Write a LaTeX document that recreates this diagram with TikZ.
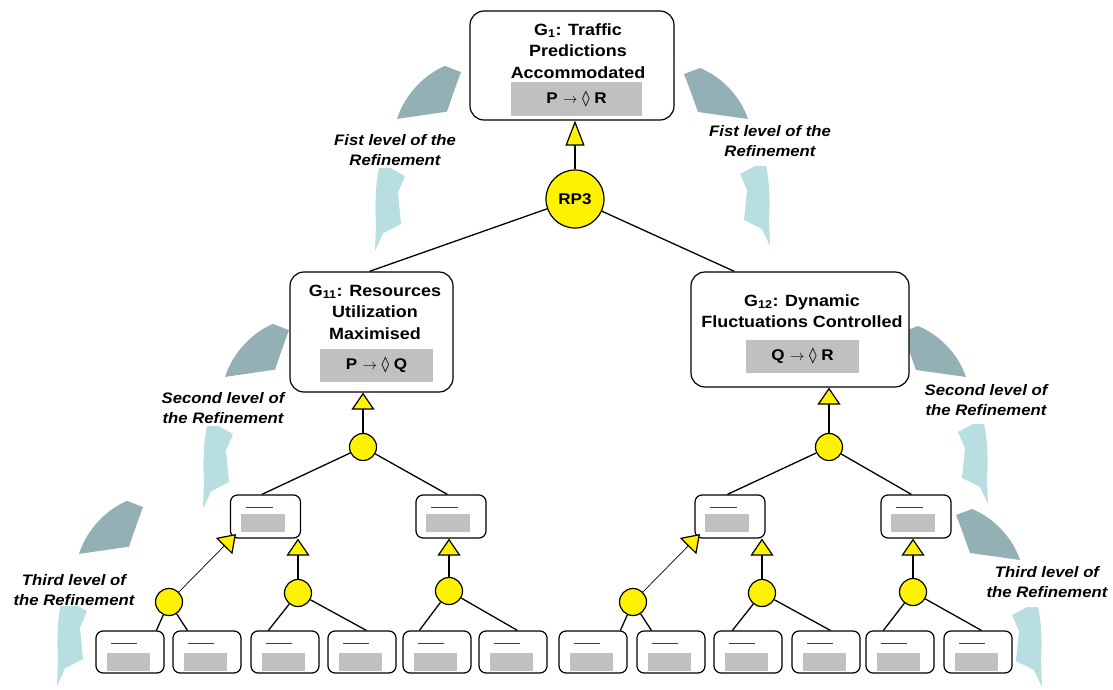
\documentclass[tikz,border=0pt]{standalone}
\usepackage{fontspec}
\setmainfont{Liberation Sans}[FakeStretch=1.1]
\newfontfamily\lozfont{DejaVu Sans}
\usetikzlibrary{arrows.meta,calc}

\definecolor{loopdark}{RGB}{147,177,181}
\definecolor{looplight}{RGB}{184,222,226}
\definecolor{formgray}{RGB}{192,192,192}

% "eventually" formula: A -> <> B
\newcommand{\eventually}[2]{#1\hspace{0.35em}$\rightarrow$\hspace{0.3em}{\lozfont\mdseries ◊}\hspace{0.3em}#2}

\tikzset{
  goalbox/.style={draw=black, line width=1.2pt, fill=white, rounded corners=14pt, inner sep=0pt},
  smallbox/.style={draw=black, line width=1.2pt, fill=white, rounded corners=7pt, inner sep=0pt},
  goaltext/.style={align=center, font=\bfseries\fontsize{16.3}{21.5}\selectfont, inner sep=0pt},
  formula/.style={fill=formgray, inner sep=0pt, font=\bfseries\fontsize{15.5}{18}\selectfont},
  placeholder/.style={fill=formgray, inner sep=0pt},
  titlebar/.style={line width=1pt, draw=black!75},
  refnode/.style={circle, draw=black, line width=1.2pt, fill=yellow, inner sep=0pt, minimum size=27pt},
  link/.style={line width=1.3pt},
  thinlink/.style={line width=0.7pt},
  satisfies/.style={-{Triangle[length=17pt,width=23pt,fill=yellow,line width=1.2pt]}},
  bigsatisfies/.style={-{Triangle[length=25pt,width=19pt,fill=yellow,line width=1.2pt]}},
  levellabel/.style={align=center, font=\bfseries\itshape\fontsize{15.2}{20}\selectfont, inner sep=0.5pt, fill=white},
  % curved refinement arrow, tip at the origin, sweeping clockwise from the upper left
  pics/refloop/.style={code={
    \fill[loopdark] (-86,-172) -- (-70,-178)
      .. controls (-50,-170) and (-30,-151) .. (-22,-127)
      -- (-72,-134)
      .. controls (-77,-148) and (-82,-162) .. (-86,-172) -- cycle;
    \fill[looplight] (-15,-80) -- (-4,-80)
      .. controls (0,-62) and (0,-40) .. (-1,-26)
      -- (0,0) -- (-8,-17) -- (-26,-26) -- (-23,-56) -- (-30,-72) -- cycle;
  }},
}

\begin{document}
\begin{tikzpicture}[x=1pt,y=-1pt]
\useasboundingbox (0,0) rectangle (1113,690);

% refinement loops on both sides
\pic[xscale=-1,yscale=1.04] at (375,251) {refloop};
\pic at (770,246) {refloop};
\pic[xscale=-1,yscale=1.04] at (203,509) {refloop};
\pic at (988,504) {refloop};
\pic[xscale=-1,yscale=1.04] at (57,686) {refloop};
\pic at (1042,687) {refloop};

\node[levellabel] (lab1l) at (395,150) {Fist level of the\\Refinement};
\node[levellabel] (lab1r) at (770,141) {Fist level of the\\Refinement};
\node[levellabel] (lab2l) at (223,408) {Second level of\\the Refinement};
\node[levellabel] (lab2r) at (986,400) {Second level of\\the Refinement};
\node[levellabel] (lab3l) at (74,590) {Third level of\\the Refinement};
\node[levellabel] (lab3r) at (1047,582) {Third level of\\the Refinement};

% top goal
\node[goalbox, minimum width=204pt, minimum height=109pt] (G1) at (572,65.5) {};
\node[goaltext] (G1t) at (578,51) {G\textsubscript{1}: Traffic\\Predictions\\Accommodated};
\node[formula, minimum width=131pt, minimum height=34pt] (G1f) at (576.5,99) {\eventually{P}{R}};

\node[refnode, minimum size=58pt, font=\bfseries\fontsize{15.5}{18}\selectfont] (RP3) at (575,199) {RP3};
\draw[link, bigsatisfies] (RP3) -- (RP3 |- G1.south);

% first refinement
\node[goalbox, minimum width=163pt, minimum height=120pt] (G11) at (371.5,332) {};
\node[goaltext] (G11t) at (375,312) {G\textsubscript{11}: Resources\\Utilization\\Maximised};
\node[formula, minimum width=113pt, minimum height=33pt] (G11f) at (376.5,365.5) {\eventually{P}{Q}};

\node[goalbox, minimum width=218pt, minimum height=115pt] (G12) at (800,329.5) {};
\node[goaltext] (G12t) at (802,311) {G\textsubscript{12}: Dynamic\\Fluctuations Controlled};
\node[formula, minimum width=113pt, minimum height=33pt] (G12f) at (802.5,356.5) {\eventually{Q}{R}};

\draw[link] (RP3) -- ([xshift=80pt]G11.north west);
\draw[link] (RP3) -- ([xshift=44pt]G12.north west);

% second refinement
\node[refnode] (c11) at (363,447) {};
\node[refnode] (c12) at (829,447) {};
\draw[link, satisfies] (c11) -- (c11 |- G11.south);
\draw[link, satisfies] (c12) -- (c12 |- G12.south);

\foreach \n/\cx in {b1/265.5, b2/451, b3/730, b4/916} {
  \node[smallbox, minimum width=70pt, minimum height=43pt] (\n) at (\cx,516.5) {};
  \node[placeholder, minimum width=44pt, minimum height=18pt] (\n-body) at ({\cx-3},523) {};
  \draw[titlebar] ({\cx-20},507) -- ({\cx+7},507);
}

\draw[link] (c11) -- ([xshift=32pt]b1.north west);
\draw[link] (c11) -- ([xshift=32pt]b2.north west);
\draw[link] (c12) -- ([xshift=33pt]b3.north west);
\draw[link] (c12) -- ([xshift=31pt]b4.north west);

% third refinement
\foreach \n/\sx in {t1/96, t2/173, t3/251, t4/328, t5/403, t6/479, t7/559, t8/637, t9/714, t10/792, t11/866, t12/944} {
  \node[smallbox, minimum width=68pt, minimum height=42pt] (\n) at ({\sx+34},652) {};
  \node[placeholder, minimum width=43pt, minimum height=18pt] (\n-body) at ({\sx+32.5},662) {};
  \draw[titlebar] ({\sx+15},643) -- ({\sx+41},643);
}

\node[refnode] (cl1) at (169,602) {};
\node[refnode] (cl2) at (298,593) {};
\node[refnode] (cl3) at (449,591) {};
\node[refnode] (cr1) at (633,602) {};
\node[refnode] (cr2) at (762,593) {};
\node[refnode] (cr3) at (913,592) {};

\coordinate (b1tip) at (236,534);
\coordinate (b3tip) at (700,534);
\draw[thinlink, satisfies] (cl1) -- (b1tip);
\draw[thinlink, satisfies] (cr1) -- (b3tip);
\draw[link, satisfies] (cl2) -- (cl2 |- b1.south);
\draw[link, satisfies] (cl3) -- (cl3 |- b2.south);
\draw[link, satisfies] (cr2) -- (cr2 |- b3.south);
\draw[link, satisfies] (cr3) -- (cr3 |- b4.south);

\draw[link] (cl1) -- ([xshift=61pt]t1.north west);
\draw[link] (cl1) -- ([xshift=15pt]t2.north west);
\draw[link] (cl2) -- ([xshift=18pt]t3.north west);
\draw[link] (cl2) -- ([xshift=39pt]t4.north west);
\draw[link] (cl3) -- ([xshift=17pt]t5.north west);
\draw[link] (cl3) -- ([xshift=39pt]t6.north west);
\draw[link] (cr1) -- ([xshift=62pt]t7.north west);
\draw[link] (cr1) -- ([xshift=15pt]t8.north west);
\draw[link] (cr2) -- ([xshift=19pt]t9.north west);
\draw[link] (cr2) -- ([xshift=39pt]t10.north west);
\draw[link] (cr3) -- ([xshift=18pt]t11.north west);
\draw[link] (cr3) -- ([xshift=38pt]t12.north west);
\end{tikzpicture}
\end{document}
